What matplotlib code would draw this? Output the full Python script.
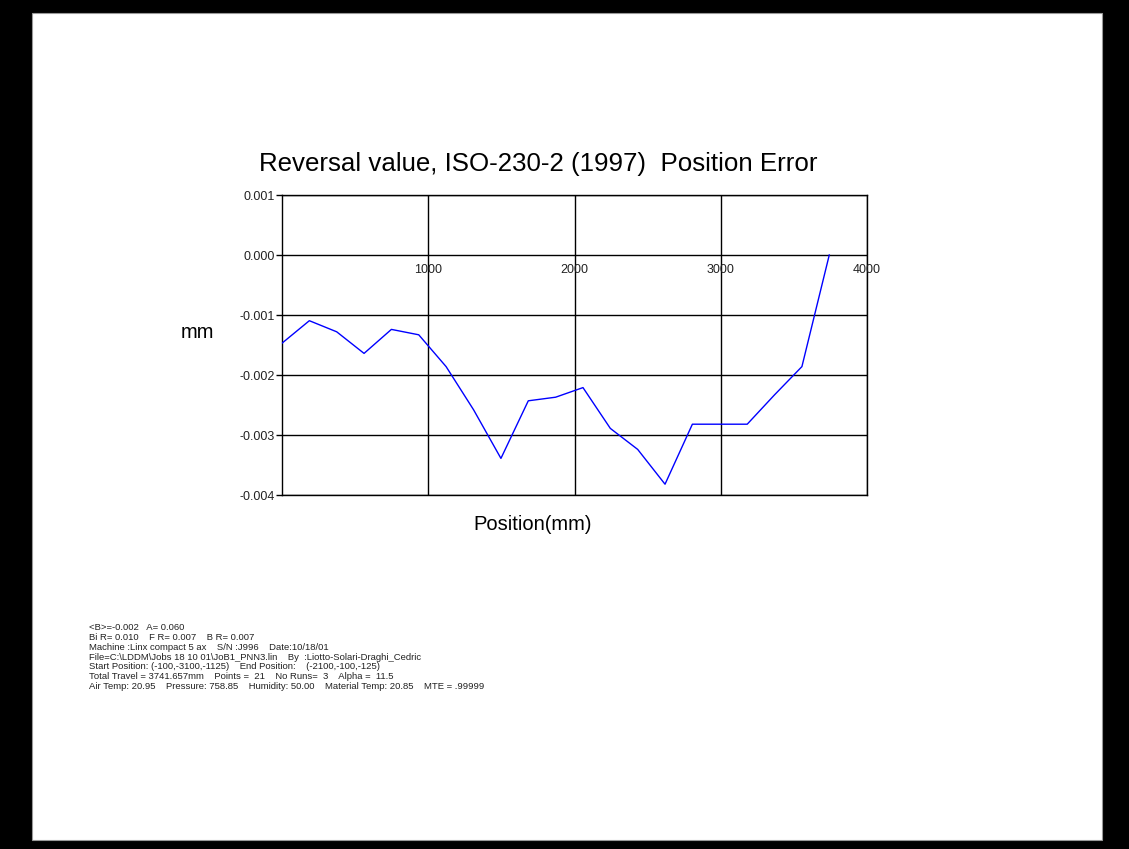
import matplotlib.pyplot as plt
from matplotlib.patches import Rectangle

# measured reversal values (mm) along the travel
position = [0, 187, 374, 561, 748, 935, 1122, 1310, 1497, 1684, 1871,
            2058, 2245, 2432, 2619, 2806, 2993, 3181, 3368, 3555, 3742]
reversal = [-0.00147, -0.001095, -0.00128, -0.00164, -0.00124, -0.00133,
            -0.00186, -0.00258, -0.00339, -0.00243, -0.00237, -0.00221,
            -0.00289, -0.00324, -0.00382, -0.00282, -0.00282, -0.00282,
            -0.00233, -0.00186, 0.0]

xticks = [1000, 2000, 3000, 4000]
yticks = [0.001, 0.000, -0.001, -0.002, -0.003, -0.004]

info_lines = [
    "<B>=-0.002   A= 0.060",
    "Bi R= 0.010    F R= 0.007    B R= 0.007",
    "Machine :Linx compact 5 ax    S/N :J996    Date:10/18/01",
    "File=C:\\LDDM\\Jobs 18 10 01\\JoB1_PNN3.lin    By  :Liotto-Solari-Draghi_Cedric",
    "Start Position: (-100,-3100,-1125)    End Position:    (-2100,-100,-125)",
    "Total Travel = 3741.657mm    Points =  21    No Runs=  3    Alpha =  11.5",
    "Air Temp: 20.95    Pressure: 758.85    Humidity: 50.00    Material Temp: 20.85    MTE = .99999",
]

plt.rcParams['font.family'] = ['Liberation Sans', 'DejaVu Sans']

fig = plt.figure(figsize=(11.29, 8.49), dpi=100, facecolor='black')
W, H = 1129, 849
# white page inside the black frame
fig.patches.append(Rectangle((32 / W, 1 - 840 / H), (1102 - 32) / W, (840 - 13) / H,
                             transform=fig.transFigure, facecolor='white',
                             edgecolor='#999999', linewidth=0.8, zorder=-5))

ax = fig.add_axes([282 / W, 1 - 495 / H, (867 - 282) / W, (495 - 195) / H])
ax.set_zorder(3)
ax.set_facecolor('white')
ax.plot(position, reversal, color='#0000ff', linewidth=1.0, zorder=3)

ax.set_xlim(0, 4000)
ax.set_ylim(-0.004, 0.001)
ax.set_xticks(xticks)
ax.set_xticklabels([])
ax.tick_params(axis='x', length=0)
ax.set_yticks(yticks)
ax.set_yticklabels(['%.3f' % v for v in yticks], fontsize=9, color='#222222')
ax.tick_params(axis='y', length=4, width=1, direction='out', pad=1)
ax.grid(True, color='black', linewidth=1.0)
for s in ax.spines.values():
    s.set_color('black')
    s.set_linewidth(1.0)

# x labels sit just below the zero line
for xv in xticks:
    ax.annotate(str(xv), (xv, 0.0), xytext=(0, -11), textcoords='offset points',
                ha='center', va='center', fontsize=9, color='#222222',
                annotation_clip=False)

fig.text(538 / W, 1 - 164 / H, "Reversal value, ISO-230-2 (1997)  Position Error",
         ha='center', va='center', fontsize=18.6, color='black', zorder=5)
fig.text(197 / W, 1 - 333 / H, "mm", ha='center', va='center', fontsize=14.5, zorder=5)
fig.text(533 / W, 1 - 525 / H, "Position(mm)", ha='center', va='center', fontsize=14.5, zorder=5)

for i, line in enumerate(info_lines):
    fig.text(89 / W, 1 - (628 + i * 9.7) / H, line, ha='left', va='center',
             fontsize=6.8, color='#222222', zorder=5)

fig.savefig('out.png', dpi=100, facecolor='black')
